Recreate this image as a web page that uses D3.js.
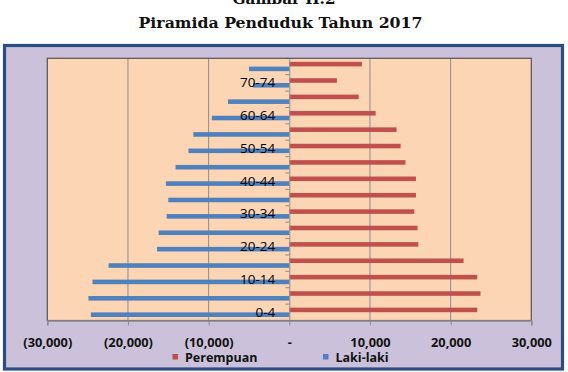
<!DOCTYPE html>
<html>
<head>
<meta charset="utf-8">
<script src="https://cdn.jsdelivr.net/npm/d3@7"></script>
<style>
  html, body { margin: 0; padding: 0; background: #ffffff; }
  svg { display: block; }
</style>
</head>
<body>
<svg id="chart" width="568" height="372"></svg>
<script>
// ---- Data ----
const titleLines = ["Gambar II.2", "Piramida Penduduk Tahun 2017"];
const ageGroups = ["0-4","5-9","10-14","15-19","20-24","25-29","30-34","35-39",
                   "40-44","45-49","50-54","55-59","60-64","65-69","70-74","75+"];
const seriesNames = ["Perempuan", "Laki-laki"];
const perempuan = [23300, 23700, 23300, 21600, 16000, 15900, 15500, 15700,
                   15700, 14400, 13800, 13300, 10700, 8600, 5900, 9000];
const lakiLaki  = [-24600, -24900, -24400, -22400, -16400, -16200, -15200, -15000,
                   -15300, -14100, -12500, -11900, -9600, -7600, -4500, -5000];
const xTicks = [-30000, -20000, -10000, 0, 10000, 20000, 30000];
const colors = { "Perempuan": "#C0504D", "Laki-laki": "#4F81BD" };

// ---- Layout ----
const svg = d3.select("#chart");
const plot = { left: 47.3, right: 531.3, top: 58.3, bottom: 320.5 };

// Outer frame
svg.append("rect")
  .attr("x", 4.5).attr("y", 45.5).attr("width", 558).attr("height", 323.5)
  .attr("fill", "#CCC1DA").attr("stroke", "#2A4E82").attr("stroke-width", 3.2);

// Title
svg.append("text")
  .attr("x", 284).attr("y", 3.5).attr("text-anchor", "middle")
  .attr("font-family", "DejaVu Serif").attr("font-weight", "bold").attr("font-size", 15)
  .attr("textLength", 103).attr("lengthAdjust", "spacingAndGlyphs")
  .attr("fill", "#111").text(titleLines[0]);
svg.append("text")
  .attr("x", 280.5).attr("y", 28.3).attr("text-anchor", "middle")
  .attr("font-family", "DejaVu Serif").attr("font-weight", "bold").attr("font-size", 15.5)
  .attr("textLength", 284).attr("lengthAdjust", "spacingAndGlyphs")
  .attr("fill", "#111").text(titleLines[1]);

// Scales
const x = d3.scaleLinear().domain([-30000, 30000]).range([plot.left, plot.right]);
const y0 = d3.scaleBand().domain(ageGroups).range([plot.bottom, plot.top])
  .paddingInner(0.43).paddingOuter(0.215);
const y1 = d3.scaleBand().domain(seriesNames).range([0, y0.bandwidth()]).paddingInner(0.04);

// Plot background
svg.append("rect")
  .attr("x", plot.left).attr("y", plot.top)
  .attr("width", plot.right - plot.left).attr("height", plot.bottom - plot.top)
  .attr("fill", "#FCD5B5");

// Gridlines
svg.append("g").selectAll("line")
  .data(xTicks.filter(d => d !== -30000 && d !== 30000 && d !== 0))
  .join("line")
  .attr("x1", d => x(d)).attr("x2", d => x(d))
  .attr("y1", plot.top).attr("y2", plot.bottom)
  .attr("stroke", "#8C8C8C").attr("stroke-width", 1);

// Bars
const rows = ageGroups.map((g, i) => ({ g, Perempuan: perempuan[i], "Laki-laki": lakiLaki[i] }));
const groups = svg.append("g").selectAll("g").data(rows).join("g")
  .attr("transform", d => `translate(0,${y0(d.g)})`);
groups.selectAll("rect")
  .data(d => seriesNames.map(s => ({ s, v: d[s] })))
  .join("rect")
  .attr("x", d => x(Math.min(0, d.v)))
  .attr("width", d => Math.abs(x(d.v) - x(0)))
  .attr("y", d => y1(d.s))
  .attr("height", y1.bandwidth())
  .attr("fill", d => colors[d.s]);

// Vertical category axis at zero
const zx = x(0);
const boundaries = d3.range(ageGroups.length + 1).map(k => plot.bottom - k * (plot.bottom - plot.top) / ageGroups.length);
svg.append("g").selectAll("line").data(boundaries).join("line")
  .attr("x1", zx - 4).attr("x2", zx)
  .attr("y1", d => d).attr("y2", d => d)
  .attr("stroke", "#8C8C8C").attr("stroke-width", 1);

const yAxis = d3.axisLeft(y0).tickSize(0).tickPadding(14)
  .tickFormat((d, i) => (i % 2 === 0 ? d : ""));
const yg = svg.append("g").attr("transform", `translate(${zx},0)`).call(yAxis);
yg.select(".domain").attr("stroke", "#8C8C8C");
yg.selectAll("text")
  .attr("font-family", "Open Sans").attr("font-size", 13.5)
  .attr("fill", "#000");

// Plot border
svg.append("rect")
  .attr("x", plot.left).attr("y", plot.top)
  .attr("width", plot.right - plot.left).attr("height", plot.bottom - plot.top)
  .attr("fill", "none").attr("stroke", "#555555").attr("stroke-width", 1.2);

// Horizontal value axis
const fmt = d3.format(",");
const xAxis = d3.axisBottom(x).tickValues(xTicks).tickSize(5)
  .tickFormat(d => d < 0 ? `(${fmt(-d)})` : d === 0 ? "-" : fmt(d));
const xg = svg.append("g").attr("transform", `translate(0,${plot.bottom})`).call(xAxis);
xg.select(".domain").attr("stroke", "#8C8C8C").attr("stroke-width", 1.5);
xg.selectAll(".tick line").attr("stroke", "#8C8C8C");
xg.selectAll("text")
  .attr("y", 26.8).attr("dy", null)
  .attr("font-family", "Open Sans").attr("font-weight", "bold").attr("font-size", 12.8)
  .attr("fill", "#111");

// Legend
const legendItems = [
  { name: seriesNames[0], x: 172.5 },
  { name: seriesNames[1], x: 323 }
];
const lg = svg.append("g").selectAll("g").data(legendItems).join("g")
  .attr("transform", d => `translate(${d.x},0)`);
lg.append("rect").attr("x", 0).attr("y", 354).attr("width", 5.5).attr("height", 5.5)
  .attr("fill", d => colors[d.name]);
lg.append("text").attr("x", 12.5).attr("y", 362)
  .attr("font-family", "Open Sans").attr("font-weight", "bold").attr("font-size", 12.5)
  .attr("fill", "#111").text(d => d.name);
</script>
</body>
</html>
